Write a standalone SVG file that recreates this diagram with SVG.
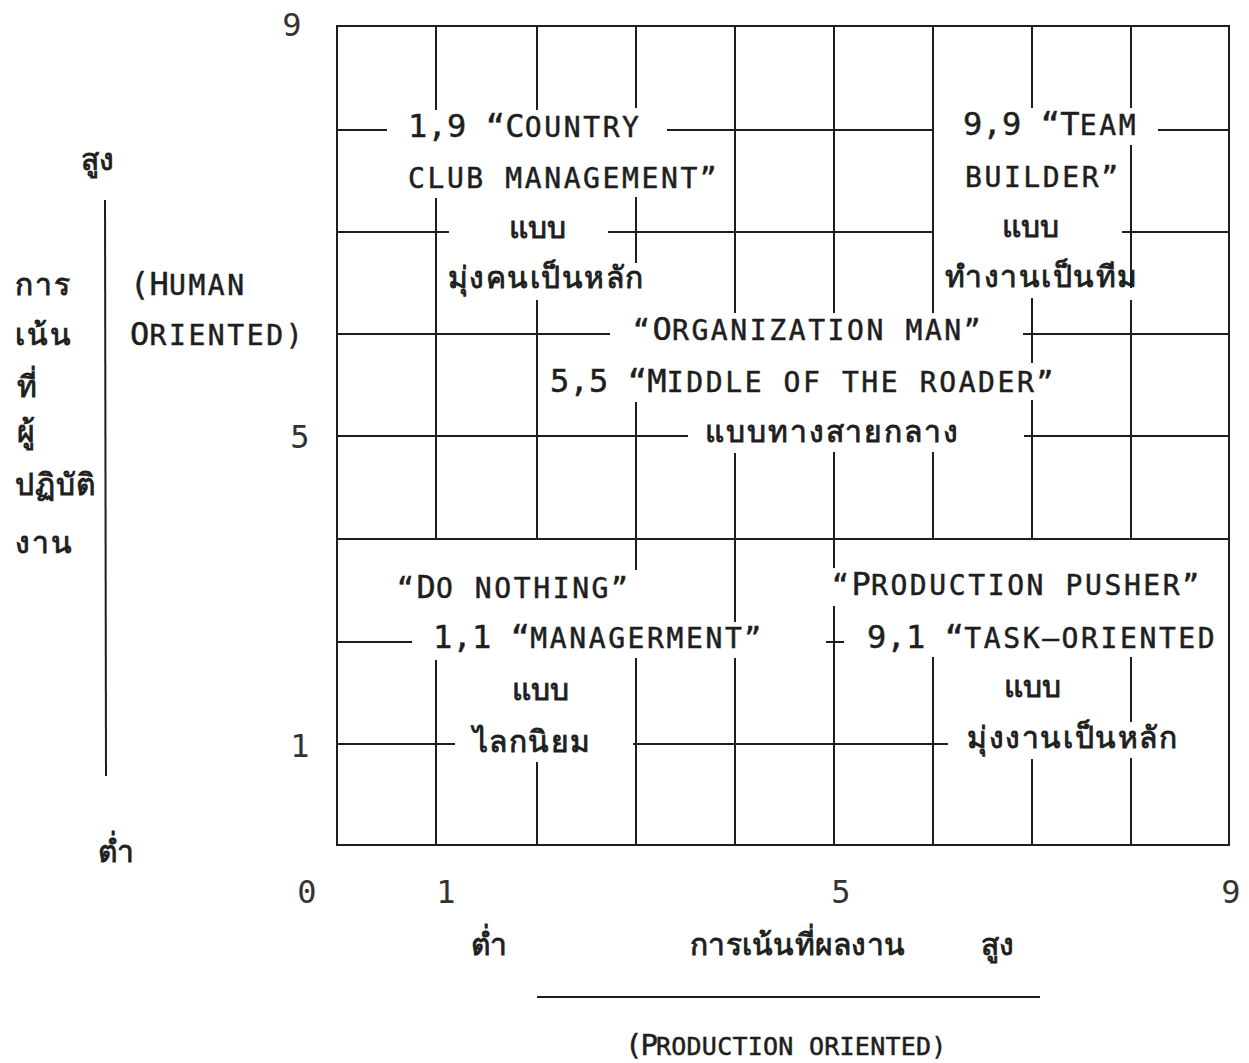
<svg xmlns="http://www.w3.org/2000/svg" width="1249" height="1063" viewBox="0 0 1249 1063">
<style>
text{font-family:"DejaVu Sans Mono","Liberation Mono","Noto Sans",sans-serif;fill:#1e1e1e;stroke:#1e1e1e;stroke-width:0.5px}
.L{font-size:32px;letter-spacing:0.2px}
.S{font-size:28px;letter-spacing:2.6px}
.th{font-size:30px;stroke-width:0.9px}
.num{font-size:32px;fill:#333;stroke-width:0}
.g line{stroke:#1e1e1e;stroke-width:2;stroke-linecap:butt}
</style>
<rect width="1249" height="1063" fill="#fff"/>
<g id="grid" class="g">
<rect x="337" y="26" width="892" height="819" fill="none" stroke="#1e1e1e" stroke-width="2"/>
<line x1="436" y1="26" x2="436" y2="110"/><line x1="436" y1="198" x2="436" y2="539"/><line x1="436" y1="660" x2="436" y2="845"/>
<line x1="537" y1="26" x2="537" y2="110"/><line x1="537" y1="300" x2="537" y2="539"/><line x1="537" y1="762" x2="537" y2="845"/>
<line x1="636" y1="26" x2="636" y2="108"/><line x1="636" y1="197" x2="636" y2="263"/><line x1="636" y1="402" x2="636" y2="570"/><line x1="636" y1="658" x2="636" y2="845"/>
<line x1="735" y1="26" x2="735" y2="313"/><line x1="735" y1="453" x2="735" y2="622"/><line x1="735" y1="658" x2="735" y2="845"/>
<line x1="834" y1="26" x2="834" y2="313"/><line x1="834" y1="452" x2="834" y2="568"/><line x1="834" y1="606" x2="834" y2="845"/>
<line x1="933" y1="26" x2="933" y2="313"/><line x1="933" y1="452" x2="933" y2="539"/><line x1="933" y1="657" x2="933" y2="845"/>
<line x1="1032" y1="26" x2="1032" y2="108"/><line x1="1032" y1="298" x2="1032" y2="363"/><line x1="1032" y1="400" x2="1032" y2="539"/><line x1="1032" y1="759" x2="1032" y2="845"/>
<line x1="1131" y1="26" x2="1131" y2="108"/><line x1="1131" y1="145" x2="1131" y2="288"/><line x1="1131" y1="300" x2="1131" y2="539"/><line x1="1131" y1="657" x2="1131" y2="722"/><line x1="1131" y1="758" x2="1131" y2="845"/>
<line x1="337" y1="130" x2="387" y2="130"/><line x1="667" y1="130" x2="933" y2="130"/><line x1="1158" y1="130" x2="1229" y2="130"/>
<line x1="337" y1="232" x2="449" y2="232"/><line x1="608" y1="232" x2="933" y2="232"/><line x1="1122" y1="232" x2="1229" y2="232"/>
<line x1="337" y1="334" x2="610" y2="334"/><line x1="1023" y1="334" x2="1229" y2="334"/>
<line x1="337" y1="436" x2="688" y2="436"/><line x1="1024" y1="436" x2="1229" y2="436"/>
<line x1="337" y1="539" x2="1229" y2="539"/>
<line x1="337" y1="642" x2="412" y2="642"/><line x1="826" y1="642" x2="844" y2="642"/>
<line x1="337" y1="744" x2="455" y2="744"/><line x1="633" y1="744" x2="948" y2="744"/>
<line x1="105" y1="200" x2="106" y2="776"/>
<line x1="537" y1="997" x2="1040" y2="997"/>
</g>
<g id="axis-numbers">
<text class="num" x="292" y="36" text-anchor="middle">9</text>
<text class="num" x="300" y="448" text-anchor="middle">5</text>
<text class="num" x="300" y="757" text-anchor="middle">1</text>
<text class="num" x="307" y="903" text-anchor="middle">0</text>
<text class="num" x="446" y="903" text-anchor="middle">1</text>
<text class="num" x="841" y="903" text-anchor="middle">5</text>
<text class="num" x="1231" y="903" text-anchor="middle">9</text>
</g>
<g id="y-axis-label">
<text class="th" x="97" y="170" text-anchor="middle">สูง</text>
<text class="th" x="15" y="295" letter-spacing="2">การ</text>
<text class="th" x="15" y="345" letter-spacing="2">เน้น</text>
<text class="th" x="17" y="397">ที่</text>
<text class="th" x="17" y="442">ผู้</text>
<text class="th" x="15" y="495" letter-spacing="1">ปฏิบัติ</text>
<text class="th" x="15" y="553" letter-spacing="2">งาน</text>
<text class="th" x="116" y="862" text-anchor="middle">ต่ำ</text>
<text x="130" y="295"><tspan class="L">(H</tspan><tspan class="S">UMAN</tspan></text>
<text x="130" y="345"><tspan class="L">O</tspan><tspan class="S">RIENTED)</tspan></text>
</g>
<g id="x-axis-label">
<text class="th" x="489" y="955" text-anchor="middle">ต่ำ</text>
<text class="th" x="690" y="955" textLength="215">การเน้นที่ผลงาน</text>
<text class="th" x="997" y="955" text-anchor="middle">สูง</text>
<text x="625" y="1055"><tspan style="font-size:29px;letter-spacing:-2px">(P</tspan><tspan style="font-size:25px;letter-spacing:0.25px">RODUCTION ORIENTED)</tspan></text>
</g>
<g id="node-1-9">
<text x="408" y="137"><tspan class="L">1,9 “C</tspan><tspan class="S">OUNTRY</tspan></text>
<text x="408" y="188"><tspan class="S">CLUB MANAGEMENT”</tspan></text>
<text class="th" x="537" y="238" text-anchor="middle">แบบ</text>
<text class="th" x="448" y="288" textLength="195">มุ่งคนเป็นหลัก</text>
</g>
<g id="node-9-9">
<text x="963" y="135"><tspan class="L">9,9 “T</tspan><tspan class="S">EAM</tspan></text>
<text x="965" y="187"><tspan class="S">BUILDER”</tspan></text>
<text class="th" x="1030" y="237" text-anchor="middle">แบบ</text>
<text class="th" x="945" y="287" textLength="192">ทำงานเป็นทีม</text>
</g>
<g id="node-5-5">
<text x="633" y="340"><tspan class="S">“</tspan><tspan class="L">O</tspan><tspan class="S">RGANIZATION MAN”</tspan></text>
<text x="550" y="392"><tspan class="L">5,5 “M</tspan><tspan class="S">IDDLE OF THE ROADER”</tspan></text>
<text class="th" x="705" y="442" textLength="253">แบบทางสายกลาง</text>
</g>
<g id="node-1-1">
<text x="397" y="598"><tspan class="S">“</tspan><tspan class="L">D</tspan><tspan class="S">O NOTHING”</tspan></text>
<text x="433" y="648"><tspan class="L">1,1 “</tspan><tspan class="S">MANAGERMENT”</tspan></text>
<text class="th" x="540" y="700" text-anchor="middle">แบบ</text>
<text class="th" x="473" y="752" textLength="117">ไลกนิยม</text>
</g>
<g id="node-9-1">
<text x="832" y="595"><tspan class="S">“</tspan><tspan class="L">P</tspan><tspan class="S">RODUCTION PUSHER”</tspan></text>
<text x="867" y="648"><tspan class="L">9,1 “</tspan><tspan class="S">TASK—ORIENTED</tspan></text>
<text class="th" x="1032" y="697" text-anchor="middle">แบบ</text>
<text class="th" x="967" y="748" textLength="210">มุ่งงานเป็นหลัก</text>
</g>
</svg>
